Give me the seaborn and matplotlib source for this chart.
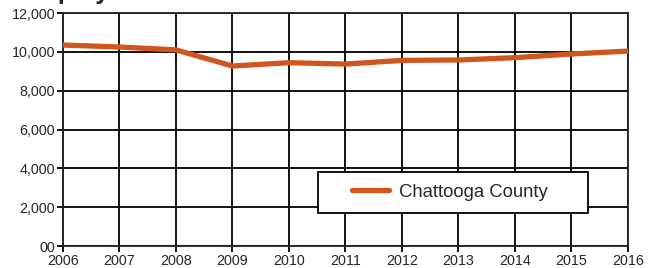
import numpy as np
import pandas as pd
import matplotlib.pyplot as plt
import seaborn as sns
from matplotlib.lines import Line2D
from matplotlib.legend_handler import HandlerLine2D

# data
years = [2006, 2007, 2008, 2009, 2010, 2011, 2012, 2013, 2014, 2015, 2016]
employment = [10350, 10250, 10100, 9270, 9440, 9370, 9560, 9580, 9700, 9890, 10040]
y_ticks = [0, 2000, 4000, 6000, 8000, 10000, 12000]
y_labels = ["00", "2,000", "4,000", "6,000", "8,000", "10,000", "12,000"]

df = pd.DataFrame({'year': years, 'value': employment, 'county': 'Chattooga County'})

sns.set_style("white")
plt.rcParams['font.family'] = ['Liberation Sans', 'DejaVu Sans']

fig = plt.figure(figsize=(6.52, 2.68), dpi=100)
ax = fig.add_axes([63/652, 22/268, 565/652, 233/268])

sns.lineplot(data=df, x='year', y='value', hue='county', palette=['#D1561C'],
             linewidth=3.8, ax=ax, zorder=3)

ax.set_xlim(2006, 2016)
ax.set_ylim(0, 12000)
ax.set_xticks(years)
ax.set_xticklabels([str(y) for y in years], fontsize=10.3)
ax.set_yticks(y_ticks)
ax.set_yticklabels(y_labels, fontsize=10.3)
ax.set_xlabel("")
ax.set_ylabel("")
ax.grid(True, color='black', linewidth=1.3)
ax.tick_params(axis='both', direction='out', length=4, width=1.3, color='black',
               left=True, bottom=True, pad=1.5)
for s in ax.spines.values():
    s.set_color('#222222')
    s.set_linewidth(1.3)

# legend box with the entry pushed in from the left edge
leg = ax.legend(loc='lower left', bbox_to_anchor=(255/565, 33/233, 270/565, 41/233),
                mode='expand', borderaxespad=0, fontsize=13.3,
                frameon=True, fancybox=False, handlelength=3.2, handletextpad=0.5,
                borderpad=0.66, title=None,
                handler_map={Line2D: HandlerLine2D(xpad=1.2)})
leg.get_frame().set_edgecolor('black')
leg.get_frame().set_linewidth(1.3)
leg.get_frame().set_alpha(1)
leg.set_zorder(5)

# title cut off at top of image
fig.text(0.03, 1.004, "Employment", fontsize=18, fontweight='bold', va='baseline')

fig.savefig("out.png", dpi=100)
